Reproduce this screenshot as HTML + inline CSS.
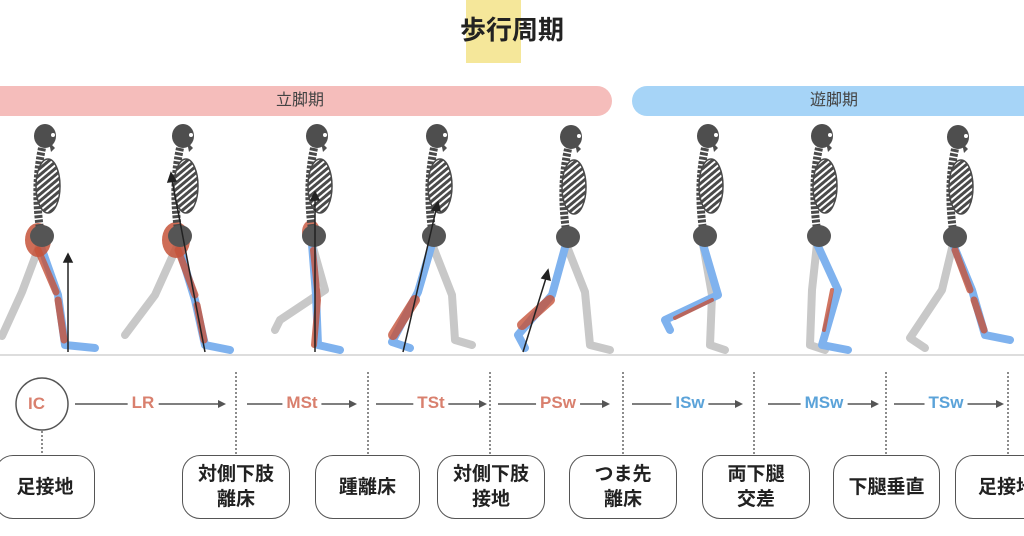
<!DOCTYPE html>
<html><head><meta charset="utf-8">
<style>
body{margin:0;width:1024px;height:536px;overflow:hidden;background:#fff;position:relative;font-family:"Liberation Sans","Noto Sans CJK JP",sans-serif}
.abs{position:absolute}
.title{left:0;width:1024px;top:12px;text-align:center;font-size:26px;font-weight:bold;color:#222;line-height:36px}
.bar{top:86px;height:30px;line-height:30px;text-align:center;font-size:16px;color:#444}
.box{top:455px;height:64px;border:1.5px solid #555;border-radius:18px;box-sizing:border-box;display:flex;align-items:center;justify-content:center;text-align:center;font-size:19px;font-weight:bold;color:#222;line-height:25px}
.lbl{top:392px;font-size:17px;font-weight:bold;background:#fff;padding:0 4px;transform:translateX(-50%);line-height:22px}
.r{color:#d9806e}.b{color:#5ba3d9}
</style></head><body>
<div class="abs" style="left:466px;top:0;width:55px;height:63px;background:#f5e79a"></div>
<div class="abs title">歩行周期</div>
<div class="abs bar" style="left:-20px;width:632px;background:#f5bdbb;border-radius:15px"><span style="position:absolute;left:296px">立脚期</span></div>
<div class="abs bar" style="left:632px;width:420px;background:#a6d4f7;border-radius:15px"><span style="position:absolute;left:178px">遊脚期</span></div>

<svg class="abs" style="left:0;top:0" width="1024" height="536">
<defs>
<pattern id="st" width="5" height="5" patternUnits="userSpaceOnUse" patternTransform="rotate(-40)">
<rect width="5" height="5" fill="#fff"/><rect width="5" height="3" fill="#4a4a4a"/></pattern>
<g id="ub">
<ellipse cx="0" cy="0" rx="11" ry="12" fill="#4e4e4e"/>
<path d="M4,6 L10,12 L6,16 Z" fill="#4e4e4e"/>
<circle cx="8" cy="-1" r="2" fill="#fff"/>
<path d="M-3,12 C-9,40 -9,70 -4,100" stroke="#4a4a4a" stroke-width="8" fill="none" stroke-dasharray="3 1.5"/>
<ellipse cx="3" cy="50" rx="12" ry="27" fill="url(#st)" stroke="#4a4a4a" stroke-width="1.5"/>
<ellipse cx="-3" cy="100" rx="12" ry="11" fill="#555"/>
</g>
</defs>
<line x1="0" y1="355" x2="1024" y2="355" stroke="#ddd" stroke-width="2"/>
<g stroke-linecap="round" stroke-linejoin="round" fill="none">
<path d="M40,244 L22,292 L2,336" stroke="#c8c8c8" stroke-width="8"/>
<path d="M40,244 L58,295 L65,345 L95,348" stroke="#7fb2ee" stroke-width="8"/>
<path d="M38,250 L56,292 M58,300 L64,340" stroke="#c5533a" stroke-width="7" opacity=".8"/>
<path d="M178,244 L155,295 L125,335" stroke="#c8c8c8" stroke-width="8"/>
<path d="M178,244 L195,300 L205,345 L230,350" stroke="#7fb2ee" stroke-width="8"/>
<path d="M178,250 L195,295 M197,305 L204,340" stroke="#c5533a" stroke-width="7" opacity=".8"/>
<path d="M312,244 L325,290 L280,320 L275,330" stroke="#c8c8c8" stroke-width="8"/>
<path d="M312,244 L316,295 L318,345 L340,350" stroke="#7fb2ee" stroke-width="8"/>
<path d="M313,250 L318,300 L314,345" stroke="#c5533a" stroke-width="6" opacity=".8"/>
<path d="M432,244 L452,295 L455,340 L472,345" stroke="#c8c8c8" stroke-width="8"/>
<path d="M432,244 L418,292 L392,342 L410,348" stroke="#7fb2ee" stroke-width="8"/>
<path d="M415,300 L393,335" stroke="#c5533a" stroke-width="10" opacity=".8"/>
<path d="M566,244 L585,292 L590,345 L610,350" stroke="#c8c8c8" stroke-width="8"/>
<path d="M566,244 L552,295 L518,335 L525,348" stroke="#7fb2ee" stroke-width="8"/>
<path d="M550,300 L522,325" stroke="#c5533a" stroke-width="10" opacity=".8"/>
<path d="M703,244 L712,295 L710,345 L725,350" stroke="#c8c8c8" stroke-width="8"/>
<path d="M703,244 L718,295 L665,320 L670,330" stroke="#7fb2ee" stroke-width="8"/>
<path d="M712,300 L675,318" stroke="#c5533a" stroke-width="4" opacity=".8"/>
<path d="M817,244 L812,290 L810,345 L825,350" stroke="#c8c8c8" stroke-width="8"/>
<path d="M817,244 L838,290 L822,345 L848,350" stroke="#7fb2ee" stroke-width="8"/>
<path d="M832,290 L824,330" stroke="#c5533a" stroke-width="4" opacity=".8"/>
<path d="M953,244 L942,290 L910,338 L925,348" stroke="#c8c8c8" stroke-width="8"/>
<path d="M953,244 L972,290 L985,335 L1010,340" stroke="#7fb2ee" stroke-width="8"/>
<path d="M955,250 L970,290 M974,300 L984,330" stroke="#c5533a" stroke-width="7" opacity=".8"/>
</g>
<ellipse cx="38" cy="240" rx="13" ry="17" fill="#c5533a" opacity=".85"/>
<ellipse cx="176" cy="240" rx="14" ry="18" fill="#c5533a" opacity=".85"/>
<ellipse cx="311" cy="232" rx="9" ry="12" fill="#c5533a" opacity=".8"/>
<use href="#ub" x="45" y="136"/><use href="#ub" x="183" y="136"/><use href="#ub" x="317" y="136"/>
<use href="#ub" x="437" y="136"/><use href="#ub" x="571" y="137"/><use href="#ub" x="708" y="136"/>
<use href="#ub" x="822" y="136"/><use href="#ub" x="958" y="137"/>
<g stroke="#222" stroke-width="1.5" fill="#222">
<line x1="68" y1="352" x2="68" y2="262"/><path d="M64,262 L68,254 L72,262Z"/>
<line x1="205" y1="352" x2="172" y2="180"/><path d="M168,182 L171,173 L176,181Z"/>
<line x1="315" y1="352" x2="315" y2="200"/><path d="M311,200 L315,192 L319,200Z"/>
<line x1="403" y1="352" x2="436" y2="210"/><path d="M432,210 L438,202 L440,211Z"/>
<line x1="523" y1="352" x2="546" y2="278"/><path d="M542,278 L548,270 L550,280Z"/>
</g>
<circle cx="42" cy="404" r="26" fill="#fff" stroke="#555" stroke-width="1.5"/>
<g stroke="#666" stroke-width="1.5" stroke-dasharray="2 2">
<line x1="42" y1="431" x2="42" y2="456"/>
<line x1="236" y1="372" x2="236" y2="456"/><line x1="368" y1="372" x2="368" y2="456"/>
<line x1="490" y1="372" x2="490" y2="456"/><line x1="623" y1="372" x2="623" y2="456"/>
<line x1="754" y1="372" x2="754" y2="456"/><line x1="886" y1="372" x2="886" y2="456"/>
<line x1="1008" y1="372" x2="1008" y2="456"/>
</g>
<g stroke="#555" stroke-width="1.5">
<line x1="75" y1="404" x2="224" y2="404"/><line x1="247" y1="404" x2="353" y2="404"/>
<line x1="376" y1="404" x2="483" y2="404"/><line x1="498" y1="404" x2="608" y2="404"/>
<line x1="632" y1="404" x2="740" y2="404"/><line x1="768" y1="404" x2="876" y2="404"/>
<line x1="894" y1="404" x2="1000" y2="404"/>
</g>
<g fill="#555">
<path d="M226,404 l-8,-4 v8Z"/><path d="M357,404 l-8,-4 v8Z"/><path d="M487,404 l-8,-4 v8Z"/>
<path d="M610,404 l-8,-4 v8Z"/><path d="M743,404 l-8,-4 v8Z"/><path d="M879,404 l-8,-4 v8Z"/><path d="M1004,404 l-8,-4 v8Z"/>
</g>
</svg>
<div class="abs r" style="left:28px;top:393px;font-size:17px;font-weight:bold;line-height:22px">IC</div>
<div class="abs lbl r" style="left:143px">LR</div>
<div class="abs lbl r" style="left:302px">MSt</div>
<div class="abs lbl r" style="left:431px">TSt</div>
<div class="abs lbl r" style="left:558px">PSw</div>
<div class="abs lbl b" style="left:690px">ISw</div>
<div class="abs lbl b" style="left:824px">MSw</div>
<div class="abs lbl b" style="left:946px">TSw</div>

<div class="abs box" style="left:-5px;width:100px">足接地</div>
<div class="abs box" style="left:182px;width:108px">対側下肢<br>離床</div>
<div class="abs box" style="left:315px;width:105px">踵離床</div>
<div class="abs box" style="left:437px;width:108px">対側下肢<br>接地</div>
<div class="abs box" style="left:569px;width:108px">つま先<br>離床</div>
<div class="abs box" style="left:702px;width:108px">両下腿<br>交差</div>
<div class="abs box" style="left:833px;width:107px">下腿垂直</div>
<div class="abs box" style="left:955px;width:100px;justify-content:flex-start;padding-left:22px">足接地</div>
</body></html>
